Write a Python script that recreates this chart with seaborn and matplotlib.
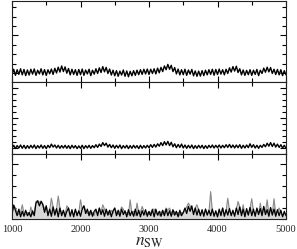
import numpy as np
import pandas as pd
import matplotlib
matplotlib.use("Agg")
import matplotlib.pyplot as plt
from matplotlib.ticker import MultipleLocator
import seaborn as sns

# ---------------- data ----------------
n_sw = list(range(1000, 5001, 25))

top_vals = [
    -0.20, 0.40, -0.25, 0.35, -0.15, 0.45, -0.20, 0.38, -0.28, 0.32,
    -0.22, 0.40, -0.12, 0.43, -0.25, 0.30, -0.10, 0.45, -0.20, 0.36,
    -0.26, 0.34, -0.08, 0.42, -0.15, 0.50, 0.00, 0.62, 0.10, 0.75,
    0.15, 0.65, -0.02, 0.48, -0.20, 0.40, -0.15, 0.35, -0.25, 0.38,
    -0.18, 0.42, -0.25, 0.32, -0.10, 0.40, -0.28, 0.30, -0.12, 0.45,
    -0.05, 0.55, 0.05, 0.68, 0.12, 0.60, -0.05, 0.42, -0.22, 0.30,
    -0.30, 0.25, -0.35, 0.20, -0.22, 0.32, -0.35, 0.22, -0.40, 0.18,
    -0.30, 0.25, -0.25, 0.30, -0.18, 0.35, -0.15, 0.40, -0.10, 0.42,
    -0.15, 0.40, -0.05, 0.45, -0.10, 0.52, 0.02, 0.60, 0.15, 0.75,
    0.35, 0.92, 0.40, 0.82, 0.15, 0.58, -0.10, 0.42, -0.20, 0.35,
    -0.18, 0.40, -0.25, 0.32, -0.12, 0.38, -0.30, 0.22, -0.35, 0.20,
    -0.33, 0.25, -0.28, 0.30, -0.20, 0.35, -0.15, 0.40, -0.24, 0.38,
    -0.16, 0.42, -0.12, 0.35, -0.20, 0.40, -0.05, 0.55, 0.10, 0.68,
    0.20, 0.72, 0.05, 0.45, -0.20, 0.32, -0.25, 0.28, -0.18, 0.35,
    -0.25, 0.30, -0.15, 0.38, -0.28, 0.30, -0.05, 0.52, 0.08, 0.62,
    0.12, 0.58, -0.05, 0.40, -0.16, 0.38, -0.20, 0.35, -0.28, 0.25,
    -0.20,
]

mid_vals = [
    -0.02, 0.08, -0.03, 0.07, -0.01, 0.09, -0.02, 0.08, -0.03, 0.07,
    -0.02, 0.08, -0.01, 0.09, -0.03, 0.07, -0.01, 0.09, -0.02, 0.07,
    -0.03, 0.08, 0.00, 0.12, 0.02, 0.09, -0.01, 0.08, -0.02, 0.07,
    -0.01, 0.08, -0.02, 0.07, -0.03, 0.08, -0.01, 0.07, -0.03, 0.06,
    -0.02, 0.08, -0.03, 0.07, -0.01, 0.08, -0.02, 0.07, 0.00, 0.10,
    0.01, 0.12, 0.04, 0.17, 0.07, 0.15, 0.02, 0.11, 0.00, 0.09,
    -0.02, 0.08, -0.01, 0.09, -0.03, 0.07, -0.01, 0.08, -0.03, 0.07,
    -0.02, 0.08, -0.01, 0.07, -0.03, 0.08, -0.02, 0.07, -0.01, 0.08,
    0.00, 0.10, 0.01, 0.11, 0.02, 0.13, 0.05, 0.17, 0.07, 0.20,
    0.09, 0.21, 0.07, 0.18, 0.03, 0.13, 0.00, 0.11, 0.01, 0.12,
    -0.01, 0.09, -0.02, 0.08, -0.01, 0.09, -0.03, 0.07, -0.02, 0.08,
    -0.01, 0.08, -0.03, 0.07, -0.02, 0.08, 0.00, 0.09, -0.01, 0.08,
    0.00, 0.09, -0.01, 0.08, 0.00, 0.10, 0.01, 0.11, 0.00, 0.09,
    -0.01, 0.09, 0.00, 0.10, -0.02, 0.08, -0.01, 0.09, 0.00, 0.13,
    0.01, 0.10, -0.01, 0.08, -0.02, 0.08, 0.01, 0.11, 0.03, 0.15,
    0.05, 0.17, 0.04, 0.15, 0.02, 0.12, 0.01, 0.10, -0.01, 0.08,
    -0.02,
]

bot_black = [
    0.4, 1.25, 0.8, 0.3, 0.9, 0.2, 0.7, 0.25, 0.8, 0.3,
    0.6, 0.2, 0.75, 0.3, 1.45, 1.65, 1.2, 1.6, 1.3, 0.6,
    1.2, 0.3, 0.9, 0.25, 1.1, 0.35, 0.95, 0.2, 1.0, 0.3,
    0.8, 0.2, 0.7, 1.0, 0.25, 0.85, 0.2, 0.9, 0.3, 0.75,
    0.25, 0.9, 1.2, 0.5, 0.9, 0.3, 0.8, 0.25, 0.7, 0.9,
    0.3, 1.0, 0.4, 0.85, 0.25, 0.9, 0.35, 0.8, 0.2, 0.75,
    1.0, 0.3, 0.8, 0.25, 0.9, 0.4, 0.75, 0.2, 0.85, 0.3,
    0.7, 0.25, 0.9, 0.3, 0.8, 0.2, 0.75, 0.35, 0.85, 0.25,
    0.7, 0.3, 0.85, 0.2, 0.9, 0.35, 0.7, 0.25, 0.8, 0.3,
    0.9, 0.3, 0.75, 0.25, 0.85, 0.35, 0.7, 0.2, 0.8, 0.3,
    0.6, 1.0, 0.5, 1.15, 0.7, 1.2, 0.4, 1.0, 0.35, 0.9,
    0.3, 0.85, 0.25, 0.9, 0.35, 0.8, 0.3, 0.9, 0.25, 0.75,
    0.2, 0.9, 0.3, 1.0, 0.25, 0.85, 0.35, 0.95, 0.3, 0.8,
    0.25, 1.0, 0.4, 1.1, 0.3, 0.9, 0.2, 0.95, 0.35, 1.05,
    0.3, 0.9, 0.25, 1.0, 0.4, 0.95, 0.3, 1.15, 0.4, 0.85,
    0.25, 1.05, 0.35, 0.9, 0.25, 0.85, 0.3, 0.8, 0.2, 0.7,
    0.3,
]

bot_gray = [
    0.7, 1.3, 1.0, 0.6, 0.4, 0.6, 1.3, 0.5, 0.4, 0.6,
    0.3, 1.1, 0.4, 0.6, 1.6, 1.7, 1.5, 1.65, 1.4, 0.9,
    1.2, 0.5, 0.8, 1.9, 1.1, 0.6, 0.9, 2.1, 1.0, 0.5,
    0.7, 0.4, 1.2, 1.0, 0.4, 0.7, 0.3, 0.8, 0.5, 0.6,
    1.75, 0.9, 1.2, 0.8, 0.5, 0.7, 0.4, 0.6, 0.3, 0.8,
    0.5, 1.0, 0.6, 1.3, 0.9, 0.5, 0.7, 0.4, 0.8, 0.5,
    1.0, 0.6, 0.4, 0.7, 1.1, 0.9, 0.5, 0.6, 0.4, 1.75,
    0.5, 0.7, 0.3, 1.45, 0.5, 0.6, 1.15, 0.7, 0.4, 0.6,
    0.4, 0.6, 0.9, 0.9, 0.5, 0.5, 0.3, 0.7, 0.4, 0.6,
    1.0, 0.8, 1.0, 0.6, 0.4, 0.7, 0.4, 0.6, 0.3, 0.6,
    0.5, 0.8, 1.1, 1.45, 1.2, 0.9, 0.6, 1.0, 1.3, 0.8,
    0.4, 0.7, 0.4, 0.9, 0.5, 0.6, 2.5, 0.7, 0.4, 0.6,
    0.3, 0.8, 0.5, 1.0, 0.4, 0.7, 1.9, 0.8, 0.5, 0.6,
    0.4, 0.9, 1.6, 1.1, 0.5, 1.3, 0.3, 0.8, 0.4, 1.0,
    1.85, 0.7, 0.4, 0.9, 0.5, 1.45, 0.4, 1.1, 0.6, 1.75,
    0.4, 1.0, 0.5, 1.85, 0.4, 0.7, 1.0, 0.6, 0.3, 0.5,
    0.4,
]

x_ticks = [1000, 2000, 3000, 4000, 5000]
x_label = r"$n_{\rm SW}$"

# ---------------- figure ----------------
sns.set_style("ticks")
plt.rcParams["font.family"] = ["Liberation Serif", "DejaVu Serif"]
plt.rcParams["mathtext.fontset"] = "stix"

W, H = 297, 249
fig = plt.figure(figsize=(W / 100, H / 100), dpi=100)
gs = fig.add_gridspec(3, 1, left=12 / W, right=286 / W, top=1 - 1 / H,
                      bottom=1 - 219 / H, hspace=0, height_ratios=[81, 72, 65])
ax1 = fig.add_subplot(gs[0])
ax2 = fig.add_subplot(gs[1], sharex=ax1)
ax3 = fig.add_subplot(gs[2], sharex=ax1)

df = pd.DataFrame({"n": n_sw, "top": top_vals, "mid": mid_vals,
                   "black": bot_black, "gray": bot_gray})

sns.lineplot(data=df, x="n", y="top", ax=ax1, color="black", lw=1.0, estimator=None)
sns.lineplot(data=df, x="n", y="mid", ax=ax2, color="black", lw=1.0, estimator=None)
ax3.fill_between(df["n"], 0, df["gray"], color="#d8d8d8", lw=0)
sns.lineplot(data=df, x="n", y="gray", ax=ax3, color="#8a8a8a", lw=0.8, estimator=None)
sns.lineplot(data=df, x="n", y="black", ax=ax3, color="black", lw=0.9, estimator=None)

ax1.set_ylim(-0.96, 7.68)
ax1.yaxis.set_major_locator(MultipleLocator(4))
ax1.yaxis.set_minor_locator(MultipleLocator(1))
ax2.set_ylim(-0.21, 2.19)
ax2.yaxis.set_major_locator(MultipleLocator(1))
ax2.yaxis.set_minor_locator(MultipleLocator(0.2))
ax3.set_ylim(0, 5.93)
ax3.yaxis.set_major_locator(MultipleLocator(5))
ax3.yaxis.set_minor_locator(MultipleLocator(1))

for ax in (ax1, ax2, ax3):
    ax.set_xlim(1000, 5000)
    ax.xaxis.set_major_locator(MultipleLocator(1000))
    ax.xaxis.set_minor_locator(MultipleLocator(500))
    ax.tick_params(which="both", direction="in", top=True, right=True,
                   width=0.8, color="black")
    ax.tick_params(which="major", length=4.5)
    ax.tick_params(which="minor", length=3)
    ax.set_ylabel("")
    ax.set_xlabel("")
    ax.tick_params(axis="y", labelleft=False)
    for s in ax.spines.values():
        s.set_linewidth(0.8)
        s.set_color("#222222")

ax1.tick_params(axis="x", labelbottom=False)
ax2.tick_params(axis="x", labelbottom=False)
ax3.set_xticks(x_ticks)
ax3.set_xticklabels([str(t) for t in x_ticks])
ax3.tick_params(axis="x", labelsize=7.5, pad=4)
ax3.set_xlabel(x_label, fontsize=12.5, labelpad=0.5)

fig.savefig("out.png", dpi=100)
